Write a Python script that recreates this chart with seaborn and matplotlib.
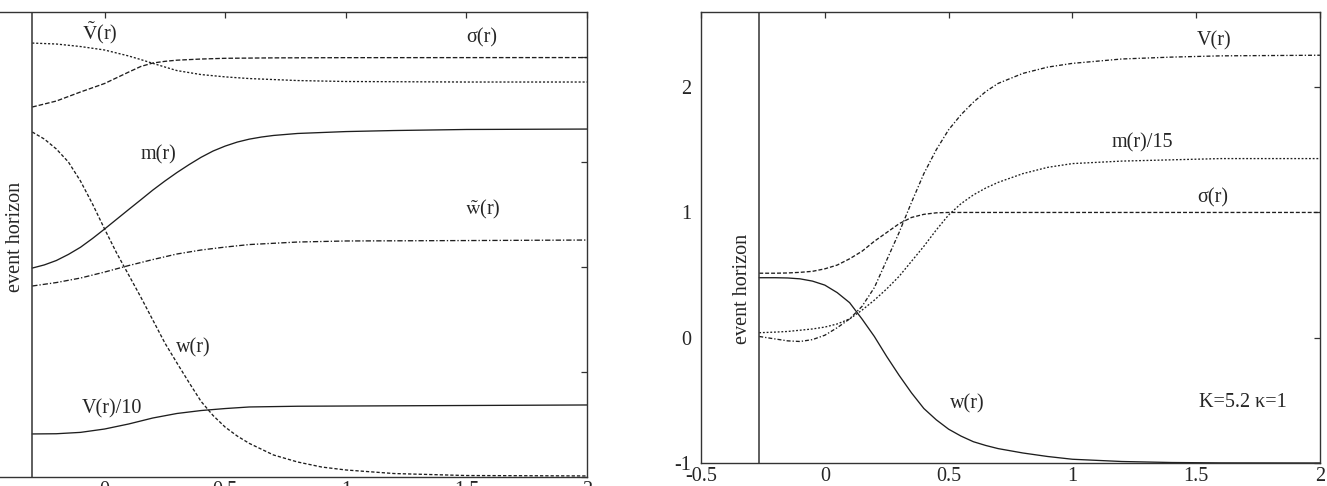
import matplotlib
matplotlib.use("Agg")
import matplotlib.pyplot as plt
import seaborn as sns

# --- data (left panel: arbitrary y units, ticks 0..4) ---
R_VT = [-0.30, -0.2, -0.1, 0.0, 0.1, 0.15, 0.2, 0.25, 0.3, 0.4, 0.5, 0.6, 0.8, 1.0, 1.5, 2.0]
VT = [4.133, 4.124, 4.100, 4.067, 4.010, 3.976, 3.940, 3.905, 3.871, 3.833, 3.811, 3.795, 3.776, 3.767, 3.762, 3.762]

R_SIG_L = [-0.30, -0.2, -0.1, 0.0, 0.1, 0.15, 0.2, 0.25, 0.3, 0.4, 0.5, 0.7, 1.0, 2.0]
SIG_L = [3.524, 3.581, 3.667, 3.748, 3.857, 3.910, 3.943, 3.959, 3.970, 3.981, 3.988, 3.992, 3.994, 3.995]

R_M = [-0.30, -0.25, -0.2, -0.15, -0.1, -0.05, 0.0, 0.05, 0.1, 0.15, 0.2, 0.25, 0.3, 0.35, 0.4,
       0.45, 0.5, 0.55, 0.6, 0.65, 0.7, 0.8, 1.0, 1.2, 1.5, 2.0]
M = [1.990, 2.020, 2.062, 2.120, 2.188, 2.272, 2.362, 2.455, 2.548, 2.640, 2.733, 2.819, 2.900, 2.975, 3.045,
     3.105, 3.152, 3.190, 3.218, 3.238, 3.253, 3.272, 3.290, 3.300, 3.310, 3.314]

R_WT = [-0.30, -0.2, -0.1, 0.0, 0.1, 0.2, 0.3, 0.4, 0.5, 0.6, 0.8, 1.0, 1.5, 2.0]
WT = [1.819, 1.852, 1.895, 1.952, 2.014, 2.071, 2.124, 2.162, 2.190, 2.214, 2.238, 2.248, 2.252, 2.257]

R_W = [-0.30, -0.25, -0.2, -0.15, -0.1, -0.05, 0.0, 0.05, 0.1, 0.15, 0.2, 0.25, 0.3, 0.35,
       0.4, 0.45, 0.5, 0.55, 0.6, 0.7, 0.8, 0.9, 1.0, 1.2, 1.5, 2.0]
W = [3.286, 3.219, 3.124, 3.000, 2.819, 2.600, 2.362, 2.133, 1.924, 1.714, 1.495, 1.276, 1.086, 0.900,
     0.720, 0.585, 0.475, 0.390, 0.320, 0.210, 0.143, 0.095, 0.067, 0.033, 0.014, 0.010]

R_V10 = [-0.30, -0.2, -0.1, 0.0, 0.1, 0.2, 0.3, 0.4, 0.5, 0.6, 0.8, 1.0, 1.5, 2.0]
V10 = [0.410, 0.412, 0.425, 0.457, 0.505, 0.562, 0.605, 0.633, 0.652, 0.667, 0.674, 0.676, 0.681, 0.686]

# --- right panel ---
R_R = [-0.265, -0.2, -0.15, -0.1, -0.05, 0.0, 0.05, 0.1, 0.15, 0.2, 0.25, 0.3, 0.35, 0.4,
       0.45, 0.5, 0.55, 0.6, 0.65, 0.7, 0.8, 0.9, 1.0, 1.2, 1.4, 1.6, 2.0]
V_R = [0.01, -0.01, -0.025, -0.03, -0.015, 0.02, 0.08, 0.15, 0.25, 0.40, 0.62, 0.84, 1.08, 1.31,
       1.50, 1.66, 1.78, 1.88, 1.965, 2.03, 2.11, 2.16, 2.19, 2.225, 2.24, 2.25, 2.255]
M15_R = [0.04, 0.045, 0.05, 0.06, 0.07, 0.085, 0.11, 0.15, 0.22, 0.30, 0.39, 0.49, 0.61, 0.73,
         0.86, 0.98, 1.07, 1.14, 1.195, 1.24, 1.31, 1.36, 1.39, 1.41, 1.42, 1.43, 1.43]
SIG_R = [0.515, 0.515, 0.517, 0.522, 0.53, 0.55, 0.58, 0.63, 0.69, 0.77, 0.84, 0.91, 0.96, 0.985,
         0.997, 1.0, 1.0, 1.0, 1.0, 1.0, 1.0, 1.0, 1.0, 1.0, 1.0, 1.0, 1.0]
W_R = [0.479, 0.479, 0.477, 0.47, 0.452, 0.42, 0.36, 0.28, 0.15, 0.01, -0.15, -0.30, -0.44, -0.565,
       -0.655, -0.73, -0.785, -0.83, -0.86, -0.885, -0.92, -0.948, -0.97, -0.988, -0.996, -0.999, -1.0]

HORIZON_L = -0.30
HORIZON_R = -0.265
X_TICKS = [-0.5, 0, 0.5, 1, 1.5, 2]
X_TICK_LABELS = ["-0.5", "0", "0.5", "1", "1.5", "2"]
Y_TICKS_R = [-1, 0, 1, 2]

# --- style ---
sns.set_style("white")
plt.rcParams['font.family'] = ['Liberation Serif', 'DejaVu Serif']
plt.rcParams['mathtext.fontset'] = 'stix'
INK = '#1e1e1e'
FS = 14.5


def curve(ax, x, y, ls):
    sns.lineplot(x=x, y=y, ax=ax, color=INK, linewidth=0.95, linestyle=ls,
                 errorbar=None, sort=False)


def frame(ax):
    for s in ax.spines.values():
        s.set_color('#333333')
        s.set_linewidth(1.0)
    ax.tick_params(direction='in', length=4, width=0.9, color='#333333',
                   top=True, right=True, labelsize=FS)
    ax.tick_params(axis='y', pad=7)
    ax.tick_params(axis='x', pad=3)
    ax.set_xlim(-0.5, 2)
    ax.set_xticks(X_TICKS)
    ax.set_xticklabels(X_TICK_LABELS)


fig = plt.figure(figsize=(13.27, 4.86), dpi=100)

# left panel (its left edge falls outside the picture, as in the reference)
ax1 = fig.add_axes([-0.01206, 0.01852, 0.4544, 0.9568])
curve(ax1, R_VT, VT, (0, (1.6, 1.4)))
curve(ax1, R_SIG_L, SIG_L, (0, (3.5, 1.5)))
curve(ax1, R_M, M, '-')
curve(ax1, R_WT, WT, (0, (4, 1.5, 1, 1.5)))
curve(ax1, R_W, W, (0, (2.5, 1.5)))
curve(ax1, R_V10, V10, '-')
ax1.axvline(HORIZON_L, color='#333333', linewidth=1.1)
frame(ax1)
ax1.set_xticklabels([""] + X_TICK_LABELS[1:])
ax1.set_ylim(0, 4.429)
ax1.set_yticks([0, 1, 2, 3, 4])
ax1.tick_params(axis='y', labelleft=False)

ax1.text(-0.021, 4.229, r'$\tilde{\mathrm{V}}$(r)', fontsize=FS, ha='center', va='center')
ax1.text(1.562, 4.181, 'σ(r)', fontsize=FS, ha='center', va='center')
ax1.text(0.223, 3.067, 'm(r)', fontsize=FS, ha='center', va='center')
ax1.text(1.570, 2.55, r'$\tilde{\mathrm{w}}$(r)', fontsize=FS, ha='center', va='center')
ax1.text(0.368, 1.229, 'w(r)', fontsize=FS, ha='center', va='center')
ax1.text(0.029, 0.648, 'V(r)/10', fontsize=FS, ha='center', va='center')
ax1.text(-0.368, 2.286, 'event horizon', fontsize=FS, rotation=90, ha='center', va='center')

# right panel
ax2 = fig.add_axes([0.5283, 0.0473, 0.4664, 0.928])
curve(ax2, R_R, V_R, (0, (3, 1.5, 1, 1.5)))
curve(ax2, R_R, M15_R, (0, (1.4, 1.4)))
curve(ax2, R_R, SIG_R, (0, (3, 1.5)))
curve(ax2, R_R, W_R, '-')
ax2.axvline(HORIZON_R, color='#333333', linewidth=1.1)
frame(ax2)
ax2.set_ylim(-1, 2.6)
ax2.set_yticks(Y_TICKS_R)
ax2.set_yticklabels([str(v) for v in Y_TICKS_R])

ax2.text(1.574, 2.370, 'V(r)', fontsize=FS, ha='center', va='center')
ax2.text(1.282, 1.556, 'm(r)/15', fontsize=FS, ha='center', va='center')
ax2.text(1.566, 1.117, 'σ(r)', fontsize=FS, ha='center', va='center')
ax2.text(0.574, -0.527, 'w(r)', fontsize=FS, ha='center', va='center')
ax2.text(1.687, -0.519, 'K=5.2 κ=1', fontsize=FS, ha='center', va='center')
ax2.text(-0.332, 0.391, 'event horizon', fontsize=FS, rotation=90, ha='center', va='center')

fig.savefig('out.png', dpi=100)
plt.close(fig)
